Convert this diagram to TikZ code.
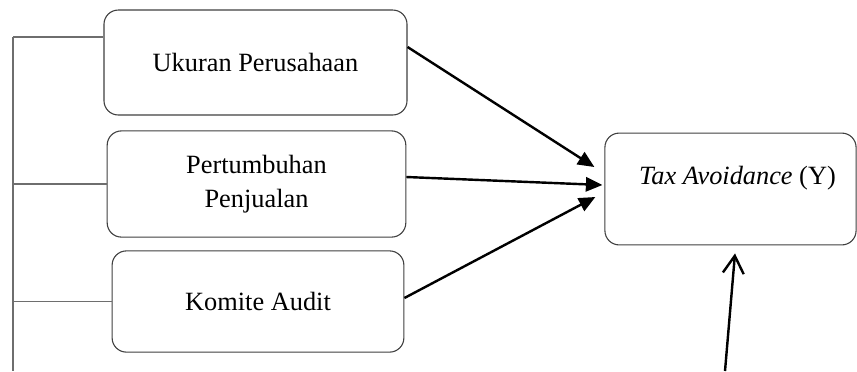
\documentclass[tikz,border=0pt]{standalone}
\usepackage{fontspec}
\setmainfont{Liberation Serif}
\usepackage{xcolor}
\usepackage{tikz}
\usetikzlibrary{calc,arrows.meta}
\definecolor{edgegray}{HTML}{404040}
\definecolor{linkgray}{HTML}{6E6E6E}
\tikzset{
  ar/.style={-{Triangle[length=7.5pt,width=6.5pt]},line width=1.1pt,black},
  arv/.style={-{Straight Barb[length=8pt,width=9.5pt]},line width=1.1pt,black},
  box/.style={draw=edgegray,line width=0.5pt,rounded corners=6.5pt,fill=white,align=center,inner sep=0pt,font=\fontsize{12pt}{15.5pt}\selectfont},
  link/.style={linkgray,line width=0.5pt}
}

\begin{document}
\begin{tikzpicture}[x=0.016cm,y=-0.016cm]
\useasboundingbox (0,0) rectangle (857,371);
\node[box,minimum width=4.85cm,minimum height=1.68cm] (ukuran) at (255.5,62.5) {Ukuran Perusahaan};
\node[box,minimum width=4.78cm,minimum height=1.70cm] (pertumbuhan) at (256.5,184) {Pertumbuhan\\Penjualan};
\node[box,minimum width=4.67cm,minimum height=1.62cm] (komite) at (258,301.5) {Komite Audit};
\node[box,minimum width=4.02cm,minimum height=1.79cm] (tax) at (730.5,189) {};
\node[font=\fontsize{12pt}{15.5pt}\selectfont,inner sep=0pt] (taxlbl) at ($(tax.center)+(7,-11)$) {\textit{Tax Avoidance} (Y)};
\coordinate (spinetop) at (13,37);
\coordinate (spinebot) at (13,371);
\coordinate (ytail) at (725,371);
\draw[link] (spinetop) -- (spinebot);
\draw[link] (spinetop) -- (spinetop -| ukuran.west);
\draw[link] (pertumbuhan.west) -- (pertumbuhan.west -| spinetop);
\draw[link] (komite.west) -- (komite.west -| spinetop);
\draw[ar] ($(ukuran.east)+(0,-15.5)$) -- ($(tax.west)+(-10,-22)$);
\draw[ar] ($(pertumbuhan.east)+(0,-7)$) -- ($(tax.west)+(-2,-4)$);
\draw[ar] ($(komite.east)+(0,-3.5)$) -- ($(tax.west)+(-9,8)$);
\draw[arv] (ytail) -- ($(tax.south)+(4.5,8)$);
\end{tikzpicture}
\end{document}
